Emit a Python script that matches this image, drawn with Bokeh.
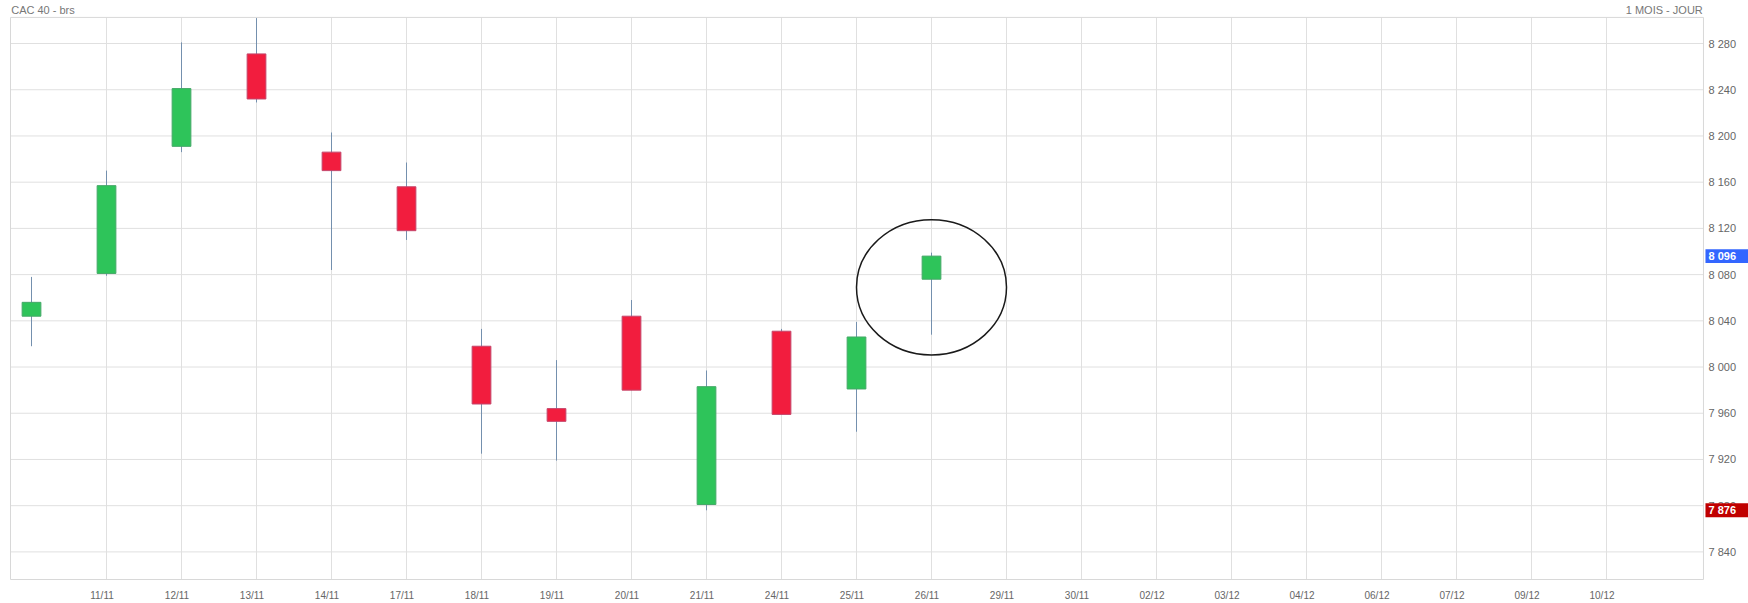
from bokeh.plotting import figure
from bokeh.models import Range1d, FixedTicker, CustomJSTickFormatter, ColumnDataSource
from bokeh.core.properties import value
from bokeh.embed import file_html
from bokeh.resources import INLINE

# ---------------- data ----------------
x_labels = ["", "11/11", "12/11", "13/11", "14/11", "17/11", "18/11", "19/11",
            "20/11", "21/11", "24/11", "25/11", "26/11", "29/11", "30/11",
            "02/12", "03/12", "04/12", "06/12", "07/12", "09/12", "10/12"]
opens  = [8044, 8081, 8191, 8271, 8186, 8156, 8018, 7964, 8044, 7881, 8031, 7981, 8076]
closes = [8056, 8157, 8241, 8232, 8170, 8118, 7968, 7953, 7980, 7983, 7959, 8026, 8096]
highs  = [8078, 8170, 8281, 8302, 8203, 8177, 8033, 8006, 8058, 7997, 8033, 8039, 8099]
lows   = [8018, 8079, 8186, 8229, 8084, 8110, 7925, 7919, 7980, 7876, 7959, 7944, 8028]
y_ticks = [7840, 7880, 7920, 7960, 8000, 8040, 8080, 8120, 8160, 8200, 8240, 8280]
y_tick_labels = ["7 840", "7 880", "7 920", "7 960", "8 000", "8 040", "8 080",
                 "8 120", "8 160", "8 200", "8 240", "8 280"]
title_left = "CAC 40 - brs"
title_right = "1 MOIS - JOUR"

# highlight ellipse (annotation)
hl_y = 8069
hl_w = 2.0
hl_h = 117

def fmt(v):
    return "{:,}".format(int(v)).replace(",", " ")

# ---------------- styles / geometry ----------------
GREEN = "#2ec45a"
GREEN_LINE = "#45a868"
RED = "#f21d3e"
RED_LINE = "#c4456a"
WICK = "#7490ae"
GRID = "#e0e0e0"
BOX = "#d8d8d8"
TXT = "#666666"
TITLE = "#777777"
FONT = "Liberation Sans"

W, H = 1748, 603
PX = 75.0          # px per category
PY = 1.16136       # px per index point
BL, BB = 9, 20     # borders left / bottom (frame covers the rest)
# plotting box (inner chart area) in data units
bx0, bx1 = -0.28, 22.293
by0, by1 = 7816.1, 8302.6
# full frame ranges
fx0 = bx0 - 1 / PX
fx1 = fx0 + (W - BL) / PX
fy0 = by0 - 1 / PY
fy1 = fy0 + (H - BB) / PY

n = len(opens)
xs = list(range(n))
up = [c >= o for o, c in zip(opens, closes)]
src = ColumnDataSource(dict(
    x=xs,
    top=[max(o, c) for o, c in zip(opens, closes)],
    bottom=[min(o, c) for o, c in zip(opens, closes)],
    high=highs, low=lows,
    fill=[GREEN if u else RED for u in up],
    line=[GREEN_LINE if u else RED_LINE for u in up],
))

p = figure(width=W, height=H, output_backend="svg", toolbar_location=None,
           x_range=Range1d(fx0, fx1), y_range=Range1d(fy0, fy1),
           y_axis_location=None,
           min_border_left=BL, min_border_right=0, min_border_top=0, min_border_bottom=BB)
p.background_fill_color = "white"
p.border_fill_color = "white"
p.outline_line_color = None
p.xgrid.visible = False
p.ygrid.visible = False

# x axis (real axis, labels only)
xa = p.xaxis[0]
xa.ticker = FixedTicker(ticks=[i - 0.06 for i in range(1, len(x_labels))])
xa.formatter = CustomJSTickFormatter(args=dict(labels=x_labels),
                                     code="const i = Math.round(tick); return labels[i] || '';")
xa.axis_line_color = None
xa.major_tick_line_color = None
xa.minor_tick_line_color = None
xa.major_label_standoff = 3
xa.major_label_text_font = FONT
xa.major_label_text_font_size = "10px"
xa.major_label_text_color = TXT

# grid lines inside the chart box
gx = list(range(1, len(x_labels)))
p.segment(x0=gx, y0=[by0] * len(gx), x1=gx, y1=[by1] * len(gx), line_color=GRID, line_width=1)
p.segment(x0=[bx0] * len(y_ticks), y0=y_ticks, x1=[bx1] * len(y_ticks), y1=y_ticks,
          line_color=GRID, line_width=1)
# chart box outline
p.quad(left=[bx0], right=[bx1], bottom=[by0], top=[by1], fill_color=None,
       line_color=BOX, line_width=1)

# y tick labels on the right
p.text(x=[bx1] * len(y_ticks), y=y_ticks, text=y_tick_labels, x_offset=5,
       text_font=value(FONT), text_font_size="11px", text_color=TXT,
       text_align="left", text_baseline="middle")

# candles
p.segment(x0="x", y0="low", x1="x", y1="high", source=src, line_color=WICK, line_width=1)
p.vbar(x="x", width=0.25, top="top", bottom="bottom", source=src,
       fill_color="fill", line_color="line", line_width=1)

# highlight ellipse around last candle
p.ellipse(x=[n - 1], y=[hl_y], width=[hl_w], height=[hl_h],
          fill_color=None, line_color="#1a1a1a", line_width=1.5)

# price tags (last close, period low)
last_close = closes[-1]
period_low = min(lows)
tag_vals = [last_close, period_low]
tag_cols = ["#3366ff", "#c00000"]
half = 7 / PY
p.quad(left=[bx1 + 2 / PX] * 2, right=[fx1] * 2,
       bottom=[v - half for v in tag_vals], top=[v + half for v in tag_vals],
       fill_color=tag_cols, line_color=None)
p.text(x=[bx1] * 2, y=tag_vals, text=[fmt(v) for v in tag_vals], x_offset=5,
       text_font=value(FONT), text_font_size="11px", text_font_style="bold",
       text_color="white", text_align="left", text_baseline="middle")

# titles above the chart box
ty = fy1 - 10.0 / PY
p.text(x=[bx0], y=[ty], text=[title_left], x_offset=0.7,
       text_font=value(FONT), text_font_size="11px", text_color=TITLE,
       text_align="left", text_baseline="alphabetic")
p.text(x=[bx1], y=[ty], text=[title_right], x_offset=-0.7,
       text_font=value(FONT), text_font_size="11px", text_color=TITLE,
       text_align="right", text_baseline="alphabetic")

open("out.html", "w").write(file_html(p, INLINE))
